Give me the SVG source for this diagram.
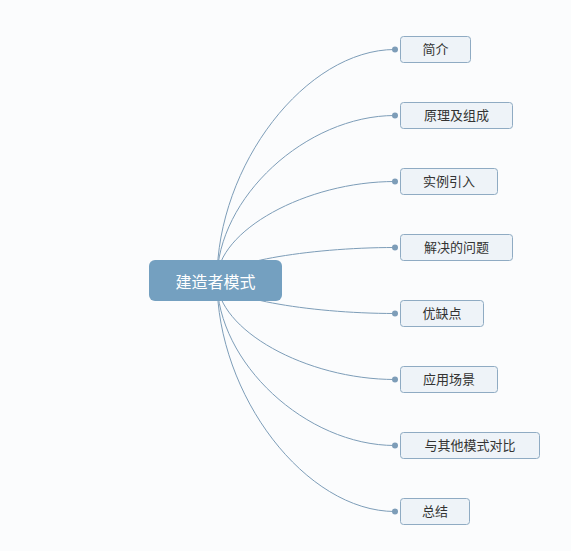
<svg xmlns="http://www.w3.org/2000/svg" width="571" height="551" viewBox="0 0 571 551">
<style>
.bg{fill:#fbfcfd}
.link{fill:none;stroke:#7d9db8;stroke-width:1}
.dot{fill:#7d9db8}
.box{fill:#eef3f8;stroke:#8fabc3;stroke-width:1}
.lbl{font-family:"Noto Sans CJK SC","Noto Sans",sans-serif;font-size:13px;fill:#333;text-anchor:middle}
.root{fill:#74a0c0}
.rlbl{font-family:"Noto Sans CJK SC","Noto Sans",sans-serif;font-size:16px;fill:#fff;text-anchor:middle}
</style>
<rect class="bg" x="0" y="0" width="571" height="551"/>
<g id="connectors">
<path class="link" d="M217,280 C217,164.75 306,49.5 395,49.5"/>
<path class="link" d="M217,280 C217,197.75 306,115.5 395,115.5"/>
<path class="link" d="M217,280 C217,230.75 306,181.5 395,181.5"/>
<path class="link" d="M217,280 C217,263.75 306,247.5 395,247.5"/>
<path class="link" d="M217,280 C217,296.75 306,313.5 395,313.5"/>
<path class="link" d="M217,280 C217,329.75 306,379.5 395,379.5"/>
<path class="link" d="M217,280 C217,362.75 306,445.5 395,445.5"/>
<path class="link" d="M217,280 C217,395.75 306,511.5 395,511.5"/>
<circle class="dot" cx="395" cy="49.5" r="3"/>
<circle class="dot" cx="395" cy="115.5" r="3"/>
<circle class="dot" cx="395" cy="181.5" r="3"/>
<circle class="dot" cx="395" cy="247.5" r="3"/>
<circle class="dot" cx="395" cy="313.5" r="3"/>
<circle class="dot" cx="395" cy="379.5" r="3"/>
<circle class="dot" cx="395" cy="445.5" r="3"/>
<circle class="dot" cx="395" cy="511.5" r="3"/>
</g>
<g id="root">
<rect class="root" x="149" y="260" width="133" height="41" rx="6"/>
<text class="rlbl" x="215.5" y="287.5">建造者模式</text>
</g>
<g id="n1">
<rect class="box" x="400.5" y="36.5" width="70" height="26" rx="3"/>
<text class="lbl" x="435.5" y="54">简介</text>
</g>
<g id="n2">
<rect class="box" x="400.5" y="102.5" width="112" height="26" rx="3"/>
<text class="lbl" x="456.5" y="120">原理及组成</text>
</g>
<g id="n3">
<rect class="box" x="400.5" y="168.5" width="97" height="26" rx="3"/>
<text class="lbl" x="449" y="186">实例引入</text>
</g>
<g id="n4">
<rect class="box" x="400.5" y="234.5" width="112" height="26" rx="3"/>
<text class="lbl" x="456.5" y="252">解决的问题</text>
</g>
<g id="n5">
<rect class="box" x="400.5" y="300.5" width="83" height="26" rx="3"/>
<text class="lbl" x="442" y="318">优缺点</text>
</g>
<g id="n6">
<rect class="box" x="400.5" y="366.5" width="97" height="26" rx="3"/>
<text class="lbl" x="449" y="384">应用场景</text>
</g>
<g id="n7">
<rect class="box" x="400.5" y="432.5" width="139" height="26" rx="3"/>
<text class="lbl" x="470" y="450">与其他模式对比</text>
</g>
<g id="n8">
<rect class="box" x="400.5" y="498.5" width="69" height="26" rx="3"/>
<text class="lbl" x="435" y="516">总结</text>
</g>
</svg>
